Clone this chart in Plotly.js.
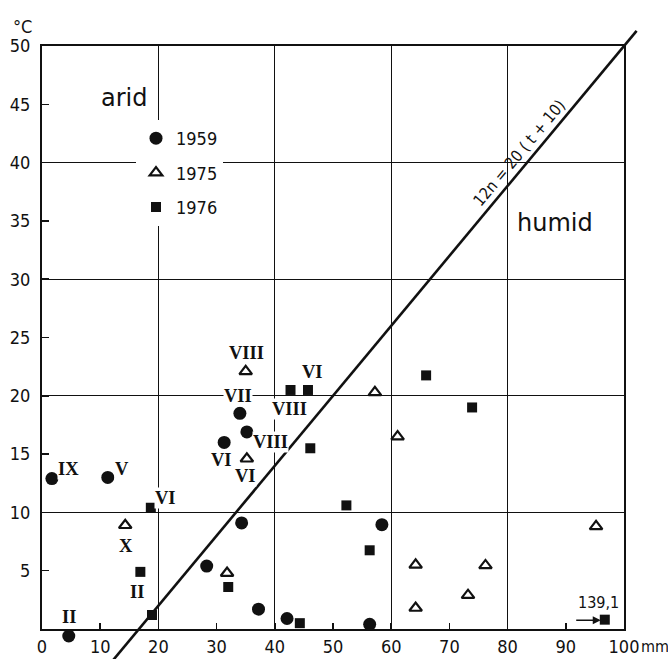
<!DOCTYPE html>
<html><head><meta charset="utf-8">
<script src="https://cdn.plot.ly/plotly-3.0.1.min.js"></script>
<style>html,body{margin:0;padding:0;background:#fff}#chart{width:668px;height:659px}</style>
</head><body><div id="chart"></div>
<script>
// ---- data ----
const n1959 = [1.7, 4.6, 11.3, 28.3, 31.3, 34.0, 34.3, 35.2, 37.2, 42.1, 56.3, 58.4];
const t1959 = [12.9, -0.6, 13.0, 5.4, 16.0, 18.5, 9.1, 16.9, 1.7, 0.9, 0.4, 8.95];
const n1975 = [14.3, 31.8, 35.0, 35.2, 57.2, 61.1, 64.2, 64.2, 73.2, 76.2, 95.2];
const t1975 = [8.9, 4.8, 22.1, 14.6, 20.3, 16.5, 5.5, 1.8, 2.9, 5.45, 8.8];
const n1976 = [16.9, 18.7, 18.9, 32.0, 42.7, 44.3, 45.7, 46.1, 52.3, 56.3, 66.0, 73.9, 96.7];
const t1976 = [4.9, 10.4, 1.2, 3.6, 20.5, 0.5, 20.5, 15.5, 10.6, 6.75, 21.75, 19.0, 0.8];
const xTicks = [0, 10, 20, 30, 40, 50, 60, 70, 80, 90, 100];
const yTicks = [5, 10, 15, 20, 25, 30, 35, 40, 45, 50];
const monthLabels = ["IX", "V", "II", "VI", "X", "II", "VIII", "VII", "VIII", "VIII", "VI", "VI", "VI"];
const monthN = [4.6, 13.7, 4.7, 21.3, 14.4, 16.3, 35.2, 33.6, 42.5, 39.2, 30.9, 35.0, 46.5];
const monthT = [13.7, 13.7, 1.05, 11.2, 7.1, 3.2, 23.7, 19.95, 18.9, 16.0, 14.5, 13.1, 22.0];
const boundaryT = [-3, 51.3]; // 12n = 20 (t + 10)
const boundaryN = boundaryT.map(t => 20 * (t + 10) / 12);

// ---- layout geometry ----
const W = 668, H = 659;
const px0 = 42, px1 = 624, py0 = 629, py1 = 46;
const xd = [px0 / W, px1 / W];
const yd = [(H - py0) / H, (H - py1) / H];
const xs = 100 / (px1 - px0), ys = 50 / (py0 - py1);
const x2range = [-px0 * xs, (W - px0) * xs];
const y2range = [-(H - py0) * ys, py0 * ys];

const INK = '#111';
const tickFont = {family: 'DejaVu Sans Condensed, DejaVu Sans', size: 18, color: INK};
const romanFont = {family: 'Liberation Serif', size: 18.5, color: INK, weight: 'bold'};

const traces = [
  {x: boundaryN, y: boundaryT, xaxis: 'x2', yaxis: 'y2', mode: 'lines',
   line: {color: INK, width: 2.6}, showlegend: false, hoverinfo: 'skip'},
  {x: [], y: [], xaxis: 'x3', yaxis: 'y3', mode: 'markers', showlegend: false},
  {x: n1959, y: t1959, name: '1959', mode: 'markers', xaxis: 'x2', yaxis: 'y2', legendgroup: 'a',
   marker: {symbol: 'circle', size: 13, color: INK}},
  {x: n1975, y: t1975, name: '1975', mode: 'markers', xaxis: 'x2', yaxis: 'y2', legendgroup: 'b',
   marker: {symbol: 'triangle-up-open', size: 11, color: INK, line: {width: 2.2, color: INK}}},
  {x: n1976, y: t1976, name: '1976', mode: 'markers', xaxis: 'x2', yaxis: 'y2', legendgroup: 'c',
   marker: {symbol: 'square', size: 10, color: INK}}
];

const annotations = monthLabels.map((s, i) => ({
  x: monthN[i], y: monthT[i], xref: 'x', yref: 'y', text: s, showarrow: false,
  xanchor: 'center', yanchor: 'middle', font: romanFont, bgcolor: '#fff', borderpad: 0
}));
annotations.push(
  {x: 14.1, y: 45.5, xref: 'x', yref: 'y', text: 'arid', showarrow: false,
   font: {family: 'DejaVu Sans', size: 24, color: INK}},
  {x: 88.2, y: 34.8, xref: 'x', yref: 'y', text: 'humid', showarrow: false,
   font: {family: 'DejaVu Sans', size: 24, color: INK}},
  {x: 81.9, y: 40.8, xref: 'x', yref: 'y', text: '12n = 20 ( t + 10)', showarrow: false,
   textangle: -50, font: {family: 'DejaVu Sans Condensed, DejaVu Sans', size: 16, color: INK}},
  {x: 95.6, y: 2.3, xref: 'x', yref: 'y', text: '139,1', showarrow: false,
   font: {family: 'DejaVu Sans Condensed, DejaVu Sans', size: 16, color: INK}},
  {x: 96.0, y: 0.75, xref: 'x', yref: 'y', text: '', showarrow: true, ax: -26, ay: 0,
   arrowhead: 2, arrowsize: 1, arrowwidth: 1.6, arrowcolor: INK, standoff: 0},
  {x: 22 / W, y: 1 - 27 / H, xref: 'paper', yref: 'paper', xanchor: 'center', yanchor: 'middle',
   text: '°C', showarrow: false, font: tickFont},
  {x: 655 / W, y: 1 - 646 / H, xref: 'paper', yref: 'paper', xanchor: 'center', yanchor: 'middle',
   text: 'mm', showarrow: false, font: {family: 'DejaVu Sans Condensed, DejaVu Sans', size: 16, color: INK}}
);

const layout = {
  width: W, height: H, margin: {l: 0, r: 0, t: 0, b: 0},
  paper_bgcolor: '#fff', plot_bgcolor: 'rgba(0,0,0,0)',
  showlegend: true,
  legend: {x: 136 / W, y: 1 - 120 / H, xanchor: 'left', yanchor: 'top',
           bgcolor: '#fff', borderwidth: 0, font: tickFont, tracegroupgap: 8},
  xaxis: {domain: xd, range: [0, 100], tickmode: 'array', tickvals: xTicks,
          ticktext: xTicks.map(String), ticks: 'inside', ticklen: 6, tickwidth: 1.5,
          tickcolor: INK, showgrid: false, zeroline: false, showline: true, linewidth: 2,
          linecolor: INK, mirror: true, tickfont: tickFont, ticklabelstandoff: 0,
          fixedrange: true},
  yaxis: {domain: yd, range: [0, 50], tickmode: 'array', tickvals: yTicks,
          ticktext: yTicks.map(String), ticks: 'inside', ticklen: 7, tickwidth: 1.5,
          tickcolor: INK, showgrid: false, zeroline: false, showline: true, linewidth: 2,
          linecolor: INK, mirror: true, tickfont: tickFont, ticklabelstandoff: 6,
          fixedrange: true},
  xaxis3: {overlaying: 'x', range: [0, 100], dtick: 20, tick0: 0, showgrid: true,
           gridcolor: INK, gridwidth: 1.3, showticklabels: false, ticks: '',
           zeroline: false, showline: false, anchor: 'y3'},
  yaxis3: {overlaying: 'y', range: [0, 50], dtick: 10, tick0: 0, showgrid: true,
           gridcolor: INK, gridwidth: 1.3, showticklabels: false, ticks: '',
           zeroline: false, showline: false, anchor: 'x3'},
  xaxis2: {domain: [0, 1], range: x2range, visible: false, anchor: 'y2', fixedrange: true},
  yaxis2: {domain: [0, 1], range: y2range, visible: false, anchor: 'x2', fixedrange: true},
  annotations: annotations
};

Plotly.newPlot('chart', traces, layout, {staticPlot: true, displayModeBar: false});
</script></body></html>
